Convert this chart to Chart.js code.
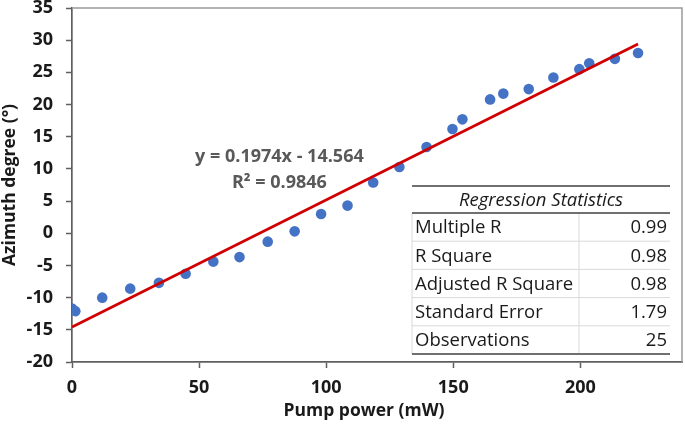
<!DOCTYPE html>
<html>
<head>
<meta charset="utf-8">
<script src="https://cdn.jsdelivr.net/npm/chart.js@4.4.1/dist/chart.umd.min.js"></script>
<style>
  html, body { margin: 0; padding: 0; background: #fff; }
</style>
</head>
<body>
<canvas id="chart" width="685" height="424"></canvas>
<script>
const pumpPower = [0, 1.3, 11.9, 22.9, 34.2, 44.7, 55.6, 65.9, 77.0, 87.6, 98.0, 108.4, 118.5,
  128.8, 139.5, 149.7, 153.6, 164.5, 169.7, 179.7, 189.4, 199.6, 203.5, 213.6, 222.7];
const azimuth = [-11.7, -12.1, -10.0, -8.6, -7.7, -6.3, -4.4, -3.7, -1.3, 0.3, 3.0, 4.3, 7.9,
  10.3, 13.4, 16.2, 17.7, 20.8, 21.7, 22.4, 24.2, 25.5, 26.4, 27.1, 28.0];

// linear trendline end points
const fitX = [0, 222.7];
const fitY = [-14.56, 29.40];

const equationLines = ['y = 0.1974x - 14.564', 'R² = 0.9846'];

const statsTitle = 'Regression Statistics';
const statLabels = ['Multiple R', 'R Square', 'Adjusted R Square', 'Standard Error', 'Observations'];
const statValues = ['0.99', '0.98', '0.98', '1.79', '25'];

const FONT = '"Open Sans"';
const TEXT = '#1a1a1a';
const AXIS = '#5f5f5f';

const frameAndNotes = {
  id: 'frameAndNotes',
  afterDraw(chart) {
    const ctx = chart.ctx;
    const a = chart.chartArea;
    const xs = chart.scales.x, ys = chart.scales.y;
    ctx.save();

    // top / right frame of plot area
    ctx.strokeStyle = '#9a9a9a';
    ctx.lineWidth = 1.5;
    ctx.beginPath();
    ctx.moveTo(a.left, a.top);
    ctx.lineTo(a.right, a.top);
    ctx.lineTo(a.right, a.bottom);
    ctx.stroke();

    // x axis title (sits a little left of centre in the original)
    ctx.fillStyle = TEXT;
    ctx.font = 'bold 17.5px ' + FONT;
    ctx.textAlign = 'center';
    ctx.textBaseline = 'middle';
    ctx.fillText('Pump power (mW)', 364, 411);

    // trendline equation
    ctx.fillStyle = '#595959';
    ctx.font = 'bold 18px ' + FONT;
    const ex = xs.getPixelForValue(81.6);
    ctx.fillText(equationLines[0], ex, ys.getPixelForValue(11.8));
    ctx.fillText(equationLines[1], ex, ys.getPixelForValue(7.8));

    // regression statistics table
    const left = 412, right = 670, top = 186, headH = 27, rowH = 28.2, split = 579;
    const bottom = top + headH + rowH * statLabels.length;
    ctx.fillStyle = '#fff';
    ctx.fillRect(left, top, right - left, bottom - top);

    ctx.strokeStyle = '#d9d9d9';
    ctx.lineWidth = 1;
    for (let i = 1; i < statLabels.length; i++) {
      const y = top + headH + rowH * i;
      ctx.beginPath(); ctx.moveTo(left, y); ctx.lineTo(right, y); ctx.stroke();
    }
    ctx.beginPath();
    ctx.moveTo(left, top + headH); ctx.lineTo(left, bottom);
    ctx.moveTo(split, top + headH); ctx.lineTo(split, bottom);
    ctx.stroke();

    ctx.strokeStyle = '#404040';
    ctx.lineWidth = 1.3;
    [top, top + headH, bottom].forEach(y => {
      ctx.beginPath(); ctx.moveTo(left, y); ctx.lineTo(right, y); ctx.stroke();
    });

    ctx.fillStyle = TEXT;
    ctx.font = 'italic 18.5px ' + FONT;
    ctx.textAlign = 'center';
    ctx.fillText(statsTitle, (left + right) / 2, top + headH / 2 + 1);

    ctx.font = '18.5px ' + FONT;
    statLabels.forEach((lab, i) => {
      const y = top + headH + rowH * i + rowH / 2 + 1;
      ctx.textAlign = 'left';
      ctx.fillText(lab, left + 3, y);
      ctx.textAlign = 'right';
      ctx.fillText(statValues[i], right - 3, y);
    });

    ctx.restore();
  }
};

new Chart(document.getElementById('chart'), {
  type: 'scatter',
  data: {
    datasets: [{
      type: 'line',
      data: fitX.map((x, i) => ({ x: x, y: fitY[i] })),
      borderColor: '#D00000',
      borderWidth: 2.7,
      pointRadius: 0,
      fill: false
    }, {
      data: pumpPower.map((x, i) => ({ x: x, y: azimuth[i] })),
      backgroundColor: '#4472C4',
      borderWidth: 0,
      pointRadius: 5.3
    }]
  },
  options: {
    responsive: false,
    animation: false,
    layout: { autoPadding: false, padding: { top: 8, right: 3, bottom: 0, left: 0 } },
    plugins: { legend: { display: false }, tooltip: { enabled: false } },
    scales: {
      x: {
        type: 'linear',
        min: 0,
        max: 240,
        afterFit(scale) { scale.height = 62; scale.paddingLeft = 0; scale.paddingRight = 0; },
        ticks: { stepSize: 50, includeBounds: false, padding: 9, color: TEXT, font: { family: FONT, size: 18, weight: 'bold' } },
        grid: { drawOnChartArea: false, drawTicks: true, tickLength: 6, tickColor: AXIS, tickWidth: 1.5 },
        border: { color: AXIS, width: 1.7 },
        title: { display: false }
      },
      y: {
        min: -20,
        max: 35,
        afterFit(scale) { scale.width = 72; scale.paddingTop = 0; scale.paddingBottom = 0; },
        ticks: { stepSize: 5, padding: 13, color: TEXT, font: { family: FONT, size: 18, weight: 'bold' } },
        grid: { drawOnChartArea: false, drawTicks: true, tickLength: 6, tickColor: AXIS, tickWidth: 1.5 },
        border: { color: AXIS, width: 1.7 },
        title: { display: true, text: 'Azimuth degree (°)', color: TEXT, padding: { top: 0, bottom: 0 }, font: { family: FONT, size: 17.5, weight: 'bold' } }
      }
    }
  },
  plugins: [frameAndNotes]
});
</script>
</body>
</html>
